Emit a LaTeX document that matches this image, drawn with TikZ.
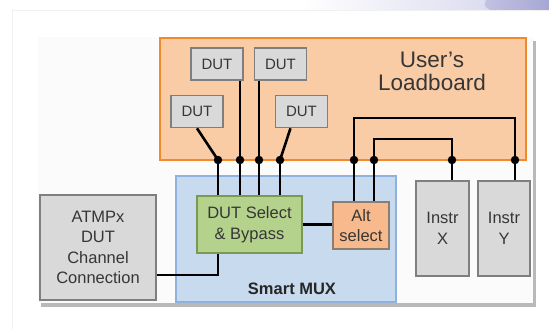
\documentclass[tikz,border=0pt]{standalone}
\usepackage{fontspec}
\setmainfont{Liberation Sans}
\definecolor{lbfill}{HTML}{F9CCA6}
\definecolor{lbdraw}{HTML}{F28A2C}
\definecolor{gfill}{HTML}{D9D9D9}
\definecolor{gdraw}{HTML}{7F7F7F}
\definecolor{bfill}{HTML}{C7DAEE}
\definecolor{bdraw}{HTML}{8FB2DC}
\definecolor{grfill}{HTML}{B4D28C}
\definecolor{grdraw}{HTML}{7B9855}
\definecolor{afill}{HTML}{F8BA8C}
\definecolor{adraw}{HTML}{8C7D72}
\definecolor{txt}{HTML}{363636}
\definecolor{lav}{HTML}{DCDCF0}
\definecolor{purp}{HTML}{A7A7D5}
\tikzset{
  box/.style={draw=gdraw, fill=gfill, line width=1.6pt, inner sep=0pt, text=txt, align=center},
  dutbox/.style={box, minimum width=52pt, minimum height=32pt, font=\fontsize{15}{17}\selectfont},
  wire/.style={line width=2.6pt, black},
  dot/.style={circle, fill=black, inner sep=0pt, minimum size=8.5pt},
  lbl/.style={font=\fontsize{16.5}{20.5}\selectfont, text=txt, align=center},
  big/.style={font=\fontsize{22.5}{22.5}\selectfont, text=txt, inner sep=0pt}
}
\begin{document}
\begin{tikzpicture}[x=1pt,y=-1pt]
\useasboundingbox (0,0) rectangle (549,329);
\fill[white] (0,0) rectangle (549,329);
% top decorative strip
\shade[left color=white, right color=lav] (300,0) rectangle (490,10);
\fill[white] (0,0) rectangle (300,10);
\shade[left color=purp!70, right color=purp] (486,0) .. controls (484,6) .. (490,10) -- (549,10) -- (549,0) -- cycle;
% faint outer frame
\draw[gray!12, line width=0.8pt] (12,329) -- (12,10) -- (549,10);
% panel with shadow
\fill[gray!55] (41,41) rectangle (536,307);
\fill[white!97!gray] (38,37) rectangle (533,303);
% loadboard
\node[draw=lbdraw, fill=lbfill, line width=2pt, minimum width=366pt, minimum height=122pt, inner sep=0pt] (lb) at (343,99) {};
\node[big] (lbt1) at (432,60) {User’s};
\node[big] (lbt2) at (432,82) {Loadboard};
% DUTs
\node[dutbox] (dut1) at (217,64) {DUT};
\node[dutbox] (dut2) at (280.5,64) {DUT};
\node[dutbox] (dut3) at (197,111.5) {DUT};
\node[dutbox] (dut4) at (301.5,111.5) {DUT};
% Smart MUX
\node[draw=bdraw, fill=bfill, line width=1.6pt, minimum width=220pt, minimum height=126pt, inner sep=0pt] (mux) at (286,239) {};
\node[font=\fontsize{16.5}{20}\selectfont\bfseries, text=black!85] (muxt) at (292,289) {Smart MUX};
\node[box, draw=grdraw, fill=grfill, minimum width=105pt, minimum height=57pt, lbl] (sel) at (249.5,224.5) {DUT Select\\\& Bypass};
\node[box, draw=adraw, fill=afill, minimum width=56pt, minimum height=47pt, lbl] (alt) at (361,225.5) {Alt\\select};
% instruments
\node[box, minimum width=53pt, minimum height=95pt, lbl] (ix) at (442.5,228.5) {Instr\\X};
\node[box, minimum width=52pt, minimum height=95pt, lbl] (iy) at (504,228.5) {Instr\\Y};
% ATMPx
\node[box, line width=2pt, minimum width=116pt, minimum height=105pt, lbl] (atm) at (98,247.5) {ATMPx\\DUT\\Channel\\Connection};
% junctions
\coordinate (j1) at (218,160);
\coordinate (j2) at (240,160);
\coordinate (j3) at (259,160);
\coordinate (j4) at (280,160);
\coordinate (j5) at (354,160);
\coordinate (j6) at (374,160);
\coordinate (j7) at (452,160);
\coordinate (j8) at (515,160);
\coordinate (t5) at (354,118);
\coordinate (t6) at (374,139);
% wires
\draw[wire] (dut3.south) -- (j1);
\draw[wire] (j2 |- dut1.south) -- (j2);
\draw[wire] (j3 |- dut2.south) -- (j3);
\draw[wire] ([xshift=-11pt]dut4.south) -- (j4);
\foreach \j in {j1,j2,j3,j4} \draw[wire] (\j) -- (\j |- sel.north);
\draw[wire] (j5) -- (t5) -| (j8);
\draw[wire] (j6) -- (t6) -| (j7);
\draw[wire] (j5) -- (j5 |- alt.north);
\draw[wire] (j6) -- (j6 |- alt.north);
\draw[wire] (j7) -- (j7 |- ix.north);
\draw[wire] (j8) -- (j8 |- iy.north);
\draw[wire] (sel.east) -- (sel.east -| alt.west);
\draw[wire] ([yshift=-27.5pt]atm.east) -| (j1 |- sel.south);
\foreach \j in {j1,j2,j3,j4,j5,j6,j7,j8} \node[dot] at (\j) {};
\end{tikzpicture}
\end{document}
